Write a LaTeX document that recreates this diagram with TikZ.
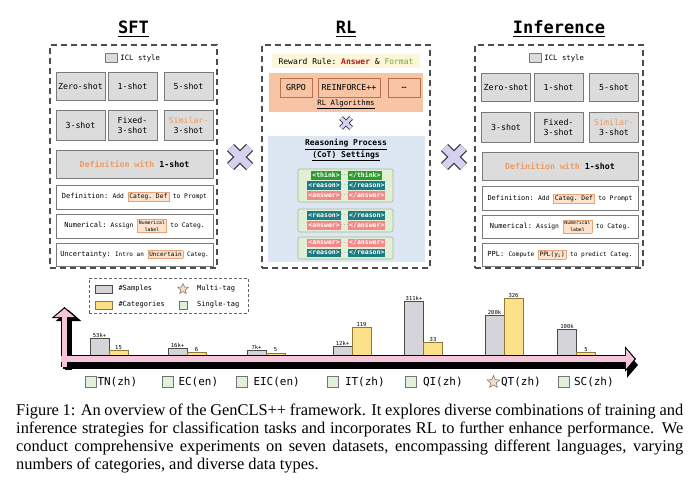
\documentclass[tikz,border=0pt]{standalone}
\usepackage{fontspec}
\setmainfont{Liberation Serif}
\setmonofont{DejaVu Sans Mono}
\usepackage{tikz}
\usetikzlibrary{arrows.meta,positioning,shapes.geometric,calc}
\usepackage{xcolor}

\definecolor{panelline}{HTML}{4D4D4D}
\definecolor{boxgray}{HTML}{DCDCDC}
\definecolor{boxline}{HTML}{7A7A7A}
\definecolor{orangetxt}{HTML}{EE9A62}
\definecolor{hlfill}{HTML}{FDE2CE}
\definecolor{hlborder}{HTML}{E6A47A}
\definecolor{crossfill}{HTML}{D8D0F2}
\definecolor{crossline}{HTML}{3A3A3A}
\definecolor{rewardfill}{HTML}{FDF6DA}
\definecolor{ansred}{HTML}{B01818}
\definecolor{fmtgreen}{HTML}{6FA83A}
\definecolor{algofill}{HTML}{F7C5A5}
\definecolor{algoline}{HTML}{B8704C}
\definecolor{cotfill}{HTML}{DCE7F3}
\definecolor{groupfill}{HTML}{E2EFD6}
\definecolor{groupline}{HTML}{A3B893}
\definecolor{thinkc}{HTML}{2F9A2F}
\definecolor{reasonc}{HTML}{1C7A80}
\definecolor{answerc}{HTML}{EF8A8A}
\definecolor{sampfill}{HTML}{D5D5D9}
\definecolor{catfill}{HTML}{FDE08A}
\definecolor{catline}{HTML}{8C7A36}
\definecolor{tagfill}{HTML}{E1EFDB}
\definecolor{starfill}{HTML}{F5DFC8}
\definecolor{starline}{HTML}{8E7868}
\definecolor{axispink}{HTML}{F5C5DA}

\newcommand{\fsz}[1]{\fontsize{#1}{#1}\selectfont}
\newcommand{\hlbox}[1]{{\setlength{\fboxsep}{1.2pt}\setlength{\fboxrule}{0.5pt}\fcolorbox{hlborder}{hlfill}{#1}}}
\newcommand{\hlstack}[2]{$\vcenter{\hbox{\hlbox{\fontsize{4.8}{5.2}\selectfont\shortstack{#1\\#2}}}}$}

\begin{document}
\begin{tikzpicture}[
    x=1pt,y=-1pt,>=Latex,
    every node/.style={inner sep=0pt,font=\ttfamily\fsz{8.3}},
    panel/.style={draw=panelline,line width=1.4pt,dash pattern=on 6pt off 4pt},
    title/.style={font=\ttfamily\bfseries\fsz{17}},
    uline/.style={line width=1.2pt},
    shotbox/.style={draw=boxline,fill=boxgray,line width=0.7pt,minimum width=49,minimum height=28,align=center,font=\ttfamily\fontsize{8.3}{10}\selectfont},
    rowbox/.style={draw=boxline,fill=white,line width=0.7pt,minimum width=157,minimum height=24},
    iclkey/.style={draw=boxline,fill=boxgray,line width=0.5pt,minimum width=12,minimum height=9},
    icltext/.style={font=\ttfamily\fsz{7.3}},
    crossmark/.style={draw=crossfill,line width=7.5pt,preaction={draw=crossline,line width=10pt}},
    smallcross/.style={draw=crossfill,line width=3.4pt,preaction={draw=crossline,line width=5pt}},
    algobox/.style={draw=algoline,fill=algofill,line width=0.7pt,minimum height=19},
    group/.style={draw=groupline,fill=groupfill,line width=0.6pt,rounded corners=2pt,minimum width=95},
    tag/.style={font=\ttfamily\bfseries\fsz{6.5},text=white,inner xsep=1pt,text height=4.8pt,text depth=1.2pt,inner ysep=1.2pt},
    think/.style={tag,fill=thinkc},
    reason/.style={tag,fill=reasonc},
    answer/.style={tag,fill=answerc},
    tagdots/.style={font=\ttfamily\fsz{5},text=gray},
    sampbar/.style={draw=black!70,fill=sampfill,line width=0.6pt,minimum width=19,anchor=south},
    catbar/.style={draw=catline,fill=catfill,line width=0.6pt,minimum width=19,anchor=south},
    barlabel/.style={font=\ttfamily\fsz{5.5}},
    legtext/.style={font=\ttfamily\fsz{7}},
    singletag/.style={draw=black!55,fill=tagfill,line width=0.6pt,minimum size=11},
    multitag/.style={star,star points=5,star point ratio=2.2,draw=starline,fill=starfill,line width=0.6pt,minimum size=13},
    dslabel/.style={font=\ttfamily\fsz{11}},
    axisshadow/.style={draw=black,line width=7pt,-{Triangle[length=11pt,width=25pt]}},
    axisedge/.style={draw=black,line width=7.4pt,-{Triangle[length=11pt,width=25pt]}},
    axisbody/.style={draw=axispink,line width=5.8pt,shorten >=1.6pt,-{Triangle[length=8.6pt,width=20pt]}},
    caption/.style={font=\rmfamily\fontsize{16.4}{18}\selectfont,align=left}
  ]
  \fill[white] (0,0) rectangle (699,500);
  \useasboundingbox (0,0) rectangle (699,500);

  % SFT
  \node[title] (sfttitle) at (133.5,27) {SFT};
  \draw[uline] ([yshift=-3pt]sfttitle.base west) -- ([yshift=-3pt]sfttitle.base east);
  \node[panel,minimum width=167,minimum height=223] (sft) at (133.5,156.5) {};
  \node[iclkey] (sfticl) at (111,58) {};
  \node[icltext,right=3pt of sfticl] (sfticlt) {ICL style};
  \node[shotbox] (sft0) at (80.5,86) {Zero-shot};
  \node[shotbox] (sft1) at (132.5,86) {1-shot};
  \node[shotbox] (sft5) at (188.5,86) {5-shot};
  \node[shotbox,minimum height=30] (sft3) at (80.5,125) {3-shot};
  \node[shotbox,minimum height=30] (sftfix) at (132.5,125) {Fixed-\\3-shot};
  \node[shotbox,minimum height=30] (sftsim) at (188.5,125) {\textcolor{orangetxt}{Similar-}\\3-shot};
  \node[shotbox,minimum width=157] (sftdef) at (134.5,164) {\bfseries\textcolor{orangetxt}{Definition with} 1-shot};
  \node[rowbox] (sftrow1) at (134.5,197) {\fsz{7}Definition: {\fsz{6.3}Add \hlbox{Categ. Def} to Prompt}};
  \node[rowbox] (sftrow2) at (134.5,226) {\fsz{7}Numerical: {\fsz{6.3}Assign \hlstack{Numerical}{label} to Categ.}};
  \node[rowbox,minimum height=23] (sftrow3) at (134.5,254.5) {\fsz{7}Uncertainty: {\fsz{6}Intro an \hlbox{Uncertain} Categ.}};

  % RL
  \node[title] (rltitle) at (346,27) {RL};
  \draw[uline] ([yshift=-3pt]rltitle.base west) -- ([yshift=-3pt]rltitle.base east);
  \node[panel,minimum width=168,minimum height=223] (rl) at (346,156.5) {};
  \node[fill=rewardfill,minimum width=148,minimum height=14,font=\ttfamily\fsz{8}] (reward) at (346,61.5) {Reward Rule: \textcolor{ansred}{\bfseries Answer} \& \textcolor{fmtgreen}{Format}};
  \node[fill=algofill,minimum width=154,minimum height=39] (algo) at (346,92.5) {};
  \node[algobox,minimum width=32] (grpo) at (296,87.5) {GRPO};
  \node[algobox,minimum width=62] (reinf) at (349,87.5) {REINFORCE++};
  \node[algobox,minimum width=32] (more) at (404,87.5) {\ldots};
  \node[font=\ttfamily\fsz{7.3}] (algolabel) at (346,104.5) {\underline{RL Algorithms}};
  \coordinate (x0) at (346,123);
  \draw[smallcross] ([shift={(-5,-5)}]x0) -- ([shift={(5,5)}]x0) ([shift={(-5,5)}]x0) -- ([shift={(5,-5)}]x0);
  \node[fill=cotfill,minimum width=157,minimum height=126] (cot) at (346,199) {};
  \node[font=\ttfamily\bfseries\fontsize{8}{10}\selectfont,align=center] (cottitle) at (346,150) {\underline{Reasoning Process}\\\underline{(CoT) Settings}};
  \node[group,minimum height=33] (g1) at (345.5,185.5) {};
  \node[group,minimum height=23] (g2) at (345.5,220.5) {};
  \node[group,minimum height=22] (g3) at (345.5,248) {};
  \node[think,anchor=east] (g1a) at (341,175.5) {<think>};
  \node[tagdots] (g1ad) at (344.5,175.5) {...};
  \node[think,anchor=west] (g1b) at (348,175.5) {</think>};
  \node[reason,anchor=east] (g1c) at (341,185.5) {<reason>};
  \node[tagdots] (g1cd) at (344.5,185.5) {...};
  \node[reason,anchor=west] (g1d) at (348,185.5) {</reason>};
  \node[answer,anchor=east] (g1e) at (341,195.5) {<answer>};
  \node[tagdots] (g1ed) at (344.5,195.5) {...};
  \node[answer,anchor=west] (g1f) at (348,195.5) {</answer>};
  \node[reason,anchor=east] (g2a) at (341,215.5) {<reason>};
  \node[tagdots] (g2ad) at (344.5,215.5) {...};
  \node[reason,anchor=west] (g2b) at (348,215.5) {</reason>};
  \node[answer,anchor=east] (g2c) at (341,225.5) {<answer>};
  \node[tagdots] (g2cd) at (344.5,225.5) {...};
  \node[answer,anchor=west] (g2d) at (348,225.5) {</answer>};
  \node[answer,anchor=east] (g3a) at (341,243) {<answer>};
  \node[tagdots] (g3ad) at (344.5,243) {...};
  \node[answer,anchor=west] (g3b) at (348,243) {</answer>};
  \node[reason,anchor=east] (g3c) at (341,253) {<reason>};
  \node[tagdots] (g3cd) at (344.5,253) {...};
  \node[reason,anchor=west] (g3d) at (348,253) {</reason>};

  % Inference
  \node[title] (inftitle) at (559,27) {Inference};
  \draw[uline] ([yshift=-3pt]inftitle.base west) -- ([yshift=-3pt]inftitle.base east);
  \node[panel,minimum width=168,minimum height=223] (inf) at (559,156.5) {};
  \node[iclkey] (inficl) at (535,58) {};
  \node[icltext,right=3pt of inficl] (inficlt) {ICL style};
  \node[shotbox] (inf0) at (506,87) {Zero-shot};
  \node[shotbox] (inf1) at (558.5,87) {1-shot};
  \node[shotbox] (inf5) at (614,87) {5-shot};
  \node[shotbox,minimum height=30] (inf3) at (506,127) {3-shot};
  \node[shotbox,minimum height=30] (inffix) at (558.5,127) {Fixed-\\3-shot};
  \node[shotbox,minimum height=30] (infsim) at (614,127) {\textcolor{orangetxt}{Similar-}\\3-shot};
  \node[shotbox,minimum width=156] (infdef) at (560,166) {\bfseries\textcolor{orangetxt}{Definition with} 1-shot};
  \node[rowbox,minimum width=156] (infrow1) at (560,198.5) {\fsz{7}Definition: {\fsz{6.3}Add \hlbox{Categ. Def} to Prompt}};
  \node[rowbox,minimum width=156,minimum height=23] (infrow2) at (560,226.5) {\fsz{7}Numerical: {\fsz{6.3}Assign \hlstack{Numerical}{label} to Categ.}};
  \node[rowbox,minimum width=156,minimum height=23] (infrow3) at (560,254.5) {\fsz{7}PPL: {\fsz{6.1}Compute \hlbox{PPL(y\textsubscript{i})} to predict Categ.}};

  % combination marks
  \coordinate (x1) at (240,157);
  \coordinate (x2) at (454,157);
  \draw[crossmark] ([shift={(-9.5,-9.5)}]x1) -- ([shift={(9.5,9.5)}]x1) ([shift={(-9.5,9.5)}]x1) -- ([shift={(9.5,-9.5)}]x1);
  \draw[crossmark] ([shift={(-9.5,-9.5)}]x2) -- ([shift={(9.5,9.5)}]x2) ([shift={(-9.5,9.5)}]x2) -- ([shift={(9.5,-9.5)}]x2);

  % legend
  \node[draw=black!60,line width=0.7pt,dash pattern=on 3pt off 2pt,minimum width=159,minimum height=35] (legend) at (168.5,295.5) {};
  \node[draw=black!70,fill=sampfill,line width=0.6pt,minimum width=17,minimum height=8] (lgs) at (103.5,289) {};
  \node[legtext,right=6pt of lgs] (lgst) {\#Samples};
  \node[draw=catline,fill=catfill,line width=0.6pt,minimum width=17,minimum height=8] (lgc) at (103.5,305) {};
  \node[legtext,right=6pt of lgc] (lgct) {\#Categories};
  \node[multitag,minimum size=11] (lgm) at (183,289) {};
  \node[legtext,anchor=west] (lgmt) at (197,289) {Multi-tag};
  \node[singletag,minimum size=8] (lgg) at (183,305) {};
  \node[legtext,anchor=west] (lggt) at (197,305) {Single-tag};

  % bars
  \node[sampbar,minimum height=18] (tns) at (99.5,357) {};
  \node[barlabel,above=1pt of tns] (tnsl) {53k+};
  \node[catbar,minimum height=6] (tnc) at (118.5,357) {};
  \node[barlabel,above=1pt of tnc] (tncl) {15};
  \node[sampbar,minimum height=8] (ecs) at (177.5,357) {};
  \node[barlabel,above=1pt of ecs] (ecsl) {16k+};
  \node[catbar,minimum height=4] (ecc) at (196.5,357) {};
  \node[barlabel,above=1pt of ecc] (eccl) {6};
  \node[sampbar,minimum height=6] (eics) at (256.5,357) {};
  \node[barlabel,above=1pt of eics] (eicsl) {7k+};
  \node[catbar,minimum height=3.5] (eicc) at (275.5,357) {};
  \node[barlabel,above=1pt of eicc] (eiccl) {5};
  \node[sampbar,minimum height=10] (its) at (342.5,357) {};
  \node[barlabel,above=1pt of its] (itsl) {12k+};
  \node[catbar,minimum height=29] (itc) at (361.5,357) {};
  \node[barlabel,above=1pt of itc] (itcl) {119};
  \node[sampbar,minimum height=55] (qis) at (414,357) {};
  \node[barlabel,above=1pt of qis] (qisl) {311k+};
  \node[catbar,minimum height=14] (qic) at (433,357) {};
  \node[barlabel,above=1pt of qic] (qicl) {33};
  \node[sampbar,minimum height=41] (qts) at (494.5,357) {};
  \node[barlabel,above=1pt of qts] (qtsl) {200k};
  \node[catbar,minimum height=58] (qtc) at (513.5,357) {};
  \node[barlabel,above=1pt of qtc] (qtcl) {326};
  \node[sampbar,minimum height=27] (scs) at (567,357) {};
  \node[barlabel,above=1pt of scs] (scsl) {100k};
  \node[catbar,minimum height=4] (scc) at (586,357) {};
  \node[barlabel,above=1pt of scc] (sccl) {5};

  % axes
  \coordinate (ybot) at (64.5,367);
  \coordinate (ytip) at (64.5,307);
  \coordinate (xbeg) at (61,359);
  \coordinate (xtip) at (636,359);
  \draw[axisshadow] ([shift={(4,3)}]ybot) -- ([shift={(4,3)}]ytip);
  \draw[axisshadow] ([shift={(2,6)}]xbeg) -- ([shift={(2,6)}]xtip);
  \draw[axisedge] (ybot) -- (ytip);
  \draw[axisedge] (xbeg) -- (xtip);
  \draw[axisbody] (ybot) -- (ytip);
  \draw[axisbody] (xbeg) -- (xtip);

  % datasets
  \node[singletag] (tnsq) at (90.5,382) {};
  \node[dslabel,right=1pt of tnsq] (tn) {TN(zh)};
  \node[singletag] (ecsq) at (167.5,382) {};
  \node[dslabel,right=5pt of ecsq] (ec) {EC(en)};
  \node[singletag] (eicsq) at (241.5,382) {};
  \node[dslabel,right=6pt of eicsq] (eic) {EIC(en)};
  \node[singletag] (itsq) at (333,382) {};
  \node[dslabel,right=6pt of itsq] (it) {IT(zh)};
  \node[singletag] (qisq) at (411,382) {};
  \node[dslabel,right=6pt of qisq] (qi) {QI(zh)};
  \node[multitag] (qtsq) at (493.5,382) {};
  \node[dslabel,right=3pt of qtsq] (qt) {QT(zh)};
  \node[singletag] (scsq) at (564,382) {};
  \node[dslabel,right=4pt of scsq] (sc) {SC(zh)};

  % caption
  \node[caption,anchor=north west] (cap) at (16,404) {%
    \makebox[667pt][s]{Figure 1: An overview of the GenCLS++ framework. It explores diverse combinations of training and}\\
    \makebox[667pt][s]{inference strategies for classification tasks and incorporates RL to further enhance performance. We}\\
    \makebox[667pt][s]{conduct comprehensive experiments on seven datasets, encompassing different languages, varying}\\
    numbers of categories, and diverse data types.};
\end{tikzpicture}
\end{document}
